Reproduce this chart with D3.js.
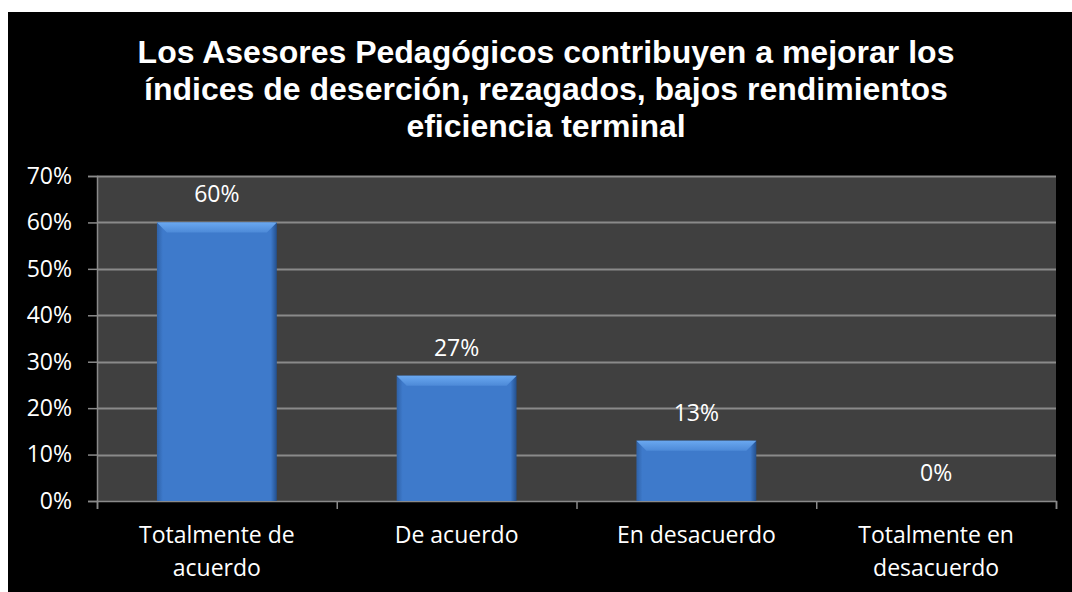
<!DOCTYPE html>
<html>
<head>
<meta charset="utf-8">
<script src="https://cdn.jsdelivr.net/npm/d3@7"></script>
<style>
  html, body { margin: 0; padding: 0; background: #fff; }
  svg { display: block; }
</style>
</head>
<body>
<div id="chart"></div>
<script>
// ─── DATA ───────────────────────────────────────────────────────────────────────
const titleLines = [
  'Los Asesores Pedagógicos contribuyen a mejorar los',
  'índices de deserción, rezagados, bajos rendimientos',
  'eficiencia terminal'
];
const categories = [
  ['Totalmente de', 'acuerdo'],
  ['De acuerdo'],
  ['En desacuerdo'],
  ['Totalmente en', 'desacuerdo']
];
const values = [60, 27, 13, 0];
const yTicks = [0, 10, 20, 30, 40, 50, 60, 70];

// ─── SIZES ──────────────────────────────────────────────────────────────────────
const W = 1072, H = 592;
const plot = {left: 97, right: 1056, top: 176, bottom: 501};
const labelFont = '"Open Sans", "DejaVu Sans", sans-serif';
const labelSize = '23px';

const svg = d3.select('#chart').append('svg')
  .attr('width', W)
  .attr('height', H);

// black background panel
svg.append('rect')
  .attr('x', 8).attr('y', 12)
  .attr('width', W - 8).attr('height', H - 12)
  .attr('fill', '#000');

// ─── TITLE ──────────────────────────────────────────────────────────────────────
svg.append('g').selectAll('text')
  .data(titleLines)
  .join('text')
  .attr('x', 546)
  .attr('y', (d, i) => 63 + i * 37)
  .attr('text-anchor', 'middle')
  .attr('fill', '#fff')
  .style('font-family', '"Liberation Sans", Arial, sans-serif')
  .style('font-weight', 'bold')
  .style('font-size', '32px')
  .text(d => d);

// ─── SCALES ─────────────────────────────────────────────────────────────────────
const x = d3.scaleBand()
  .domain(d3.range(categories.length))
  .range([plot.left, plot.right])
  .paddingInner(0.5)
  .paddingOuter(0.25);

const xEdge = d3.scaleLinear()
  .domain([0, categories.length])
  .range([plot.left, plot.right]);

const y = d3.scaleLinear()
  .domain([0, 70])
  .range([plot.bottom, plot.top]);

// plot area
svg.append('rect')
  .attr('x', plot.left).attr('y', plot.top)
  .attr('width', plot.right - plot.left)
  .attr('height', plot.bottom - plot.top)
  .attr('fill', '#404040');

// gridlines
svg.append('g').selectAll('line')
  .data(yTicks.slice(1))
  .join('line')
  .attr('x1', plot.left).attr('x2', plot.right)
  .attr('y1', d => Math.round(y(d)) + 0.5)
  .attr('y2', d => Math.round(y(d)) + 0.5)
  .attr('stroke', '#8a8a8a')
  .attr('stroke-width', 2);

// ─── AXES ───────────────────────────────────────────────────────────────────────
const yAxis = svg.append('g')
  .attr('transform', `translate(${plot.left},0)`)
  .call(d3.axisLeft(y).tickValues(yTicks).tickSize(9).tickPadding(16)
    .tickFormat(d => d + '%'));
yAxis.selectAll('path, line').attr('stroke', '#8a8a8a').attr('stroke-width', 1.5);
yAxis.selectAll('text')
  .attr('fill', '#fff')
  .style('font-family', labelFont)
  .style('font-size', labelSize);

const xAxis = svg.append('g')
  .attr('transform', `translate(0,${plot.bottom})`)
  .call(d3.axisBottom(xEdge).ticks(categories.length).tickSize(8)
    .tickSizeOuter(8).tickFormat(''));
xAxis.selectAll('path, line').attr('stroke', '#8a8a8a').attr('stroke-width', 1.5);

// category labels
const catG = svg.append('g').selectAll('text')
  .data(categories)
  .join('text')
  .attr('x', (d, i) => x(i) + x.bandwidth() / 2)
  .attr('y', 543)
  .attr('text-anchor', 'middle')
  .attr('fill', '#fff')
  .style('font-family', labelFont)
  .style('font-size', labelSize);
catG.selectAll('tspan')
  .data(d => d)
  .join('tspan')
  .attr('x', function() { return d3.select(this.parentNode).attr('x'); })
  .attr('dy', (d, i) => i === 0 ? 0 : 33)
  .text(d => d);

// ─── BARS ───────────────────────────────────────────────────────────────────────
const defs = svg.append('defs');
const bodyGrad = defs.append('linearGradient').attr('id', 'barBody')
  .attr('x1', 0).attr('x2', 1).attr('y1', 0).attr('y2', 0);
bodyGrad.append('stop').attr('offset', 0).attr('stop-color', '#2f62a8');
bodyGrad.append('stop').attr('offset', 0.05).attr('stop-color', '#3e7acb');
bodyGrad.append('stop').attr('offset', 0.95).attr('stop-color', '#3e7acb');
bodyGrad.append('stop').attr('offset', 1).attr('stop-color', '#234f8c');

const bevelGrad = defs.append('linearGradient').attr('id', 'barTop')
  .attr('x1', 0).attr('x2', 0).attr('y1', 0).attr('y2', 1);
bevelGrad.append('stop').attr('offset', 0).attr('stop-color', '#6aa8f0');
bevelGrad.append('stop').attr('offset', 1).attr('stop-color', '#4d8ad8');

const bevel = 10;
const bars = svg.append('g').selectAll('g')
  .data(values.filter(v => v > 0))
  .join('g');

bars.append('rect')
  .attr('x', (d, i) => x(i))
  .attr('y', d => y(d))
  .attr('width', x.bandwidth())
  .attr('height', d => y(0) - y(d))
  .attr('fill', 'url(#barBody)');

// top bevel
bars.append('polygon')
  .attr('points', (d, i) => {
    const x0 = x(i), x1 = x(i) + x.bandwidth(), t = y(d);
    return [[x0, t], [x1, t], [x1 - bevel, t + bevel], [x0 + bevel, t + bevel]]
      .map(p => p.join(',')).join(' ');
  })
  .attr('fill', 'url(#barTop)');

// ─── VALUE LABELS ───────────────────────────────────────────────────────────────
svg.append('g').selectAll('text')
  .data(values)
  .join('text')
  .attr('x', (d, i) => x(i) + x.bandwidth() / 2)
  .attr('y', d => y(d) - 20)
  .attr('text-anchor', 'middle')
  .attr('fill', '#fff')
  .style('font-family', labelFont)
  .style('font-size', labelSize)
  .text(d => d + '%');
</script>
</body>
</html>
